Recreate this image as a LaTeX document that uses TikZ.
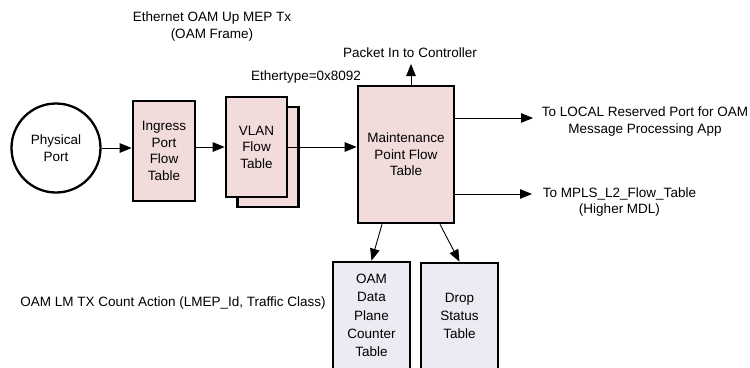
\documentclass[tikz,border=0pt]{standalone}
\usepackage{fontspec}
\setmainfont{Liberation Sans}
\usetikzlibrary{arrows.meta,calc}
\definecolor{tablepink}{HTML}{F2DCDB}
\definecolor{tablelav}{HTML}{ECEAF2}
\tikzset{
  base/.style={font=\fontsize{13.5}{16.5}\selectfont},
  tbl/.style={base, draw, line width=2.6pt, fill=tablepink, align=center,
    inner sep=0pt},
  ctr/.style={base, draw, line width=2.6pt, fill=tablelav, align=center,
    inner sep=0pt, font=\fontsize{13.5}{18.3}\selectfont},
  arr/.style={line width=0.9pt, -{Triangle[length=12pt,width=9.5pt]}},
  lbl/.style={base, align=center, inner sep=0pt},
}
\begin{document}
\begin{tikzpicture}[x=1pt,y=-1pt]
\useasboundingbox (0,0) rectangle (750,367);
\begin{scope}
\clip (0,0) rectangle (750,367);

% ingress chain
\node[base, draw, circle, line width=2.3pt, minimum size=89pt, align=center, inner sep=0pt]
  (phys) at (56,148) {Physical\\Port};
\node[tbl, minimum width=62pt, minimum height=100pt] (ingress) at (164,151)
  {Ingress\\Port\\Flow\\Table};
\node[tbl, minimum width=61pt, minimum height=100pt] (vlanback) at (268,157) {};
\node[tbl, minimum width=61pt, minimum height=100pt] (vlan) at (256.5,147)
  {VLAN\\Flow\\Table};
\node[tbl, minimum width=96pt, minimum height=137pt] (mp) at (406,154.5)
  {Maintenance\\Point Flow\\Table};

% counter and status tables
\node[ctr, minimum width=77pt, minimum height=107pt] (oam) at (371.5,315.5)
  {OAM\\Data\\Plane\\Counter\\Table};
\node[ctr, minimum width=77pt, minimum height=106pt] (drop) at (459.5,316)
  {Drop\\Status\\Table};

% free ends of the outgoing connectors
\coordinate (pin) at (411,64);
\coordinate (local) at (533,118);
\coordinate (mpls) at (532,194);

\draw[arr] (phys.east) -- (phys.east -| ingress.west);
\draw[arr] (ingress.east |- vlan) -- (vlan.west);
\draw[arr] (vlan.east) -- (vlan.east -| mp.west);
\draw[arr] (mp.north -| pin) -- (pin);
\draw[arr] (mp.east |- local) -- (local);
\draw[arr] (mp.east |- mpls) -- (mpls);
\draw[arr] ([xshift=-24pt]mp.south) -- (oam.north);
\draw[arr] ([xshift=34pt]mp.south) -- (drop.north);

% labels
\node[lbl] (title) at (212,26.5) {Ethernet OAM Up MEP Tx\\(OAM Frame)};
\node[lbl] (etype) at (306,77) {Ethertype=0x8092};
\node[lbl] (pinlbl) at (410,53) {Packet In to Controller};
\node[lbl] (locallbl) at (645,121.5) {To LOCAL Reserved Port for OAM\\Message Processing App};
\node[lbl] (mplslbl) at (619.5,202) {To MPLS\_L2\_Flow\_Table\\(Higher MDL)};
\node[lbl] (lmlbl) at (173,303) {OAM LM TX Count Action (LMEP\_Id, Traffic Class)};
\end{scope}
\end{tikzpicture}
\end{document}
